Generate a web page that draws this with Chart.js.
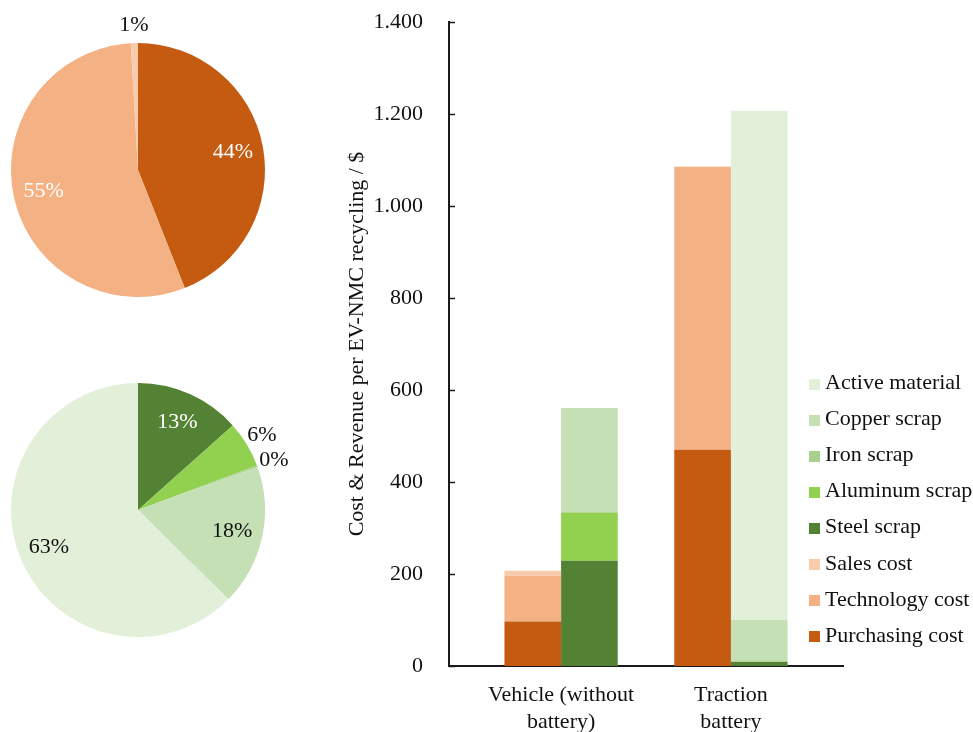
<!DOCTYPE html>
<html>
<head>
<meta charset="utf-8">
<script src="https://cdn.jsdelivr.net/npm/chart.js@4.4.1/dist/chart.umd.min.js"></script>
<style>
  html, body { margin: 0; padding: 0; background: #fff; overflow: hidden; }
  body { width: 973px; height: 732px; position: relative; font-family: "Liberation Serif", "Times New Roman", serif; }
  #pieCost { position: absolute; left: 0; top: 0; }
  #pieRevenue { position: absolute; left: 0; top: 340px; }
  #barChart { position: absolute; left: 330px; top: 0; }
  #legend { position: absolute; left: 809px; top: 364px; font-size: 22px; color: #111; }
  #legend .row { display: flex; align-items: center; height: 36.1px; white-space: nowrap; }
  #legend .box { width: 11px; height: 11px; margin-right: 5px; position: relative; top: 2px; }
</style>
</head>
<body>
<canvas id="pieCost" width="300" height="340"></canvas>
<canvas id="pieRevenue" width="300" height="392"></canvas>
<canvas id="barChart" width="643" height="732"></canvas>
<div id="legend"></div>

<script>
// Dados (US$ por EV-NMC)
const categories = [['Vehicle (without', 'battery)'], ['Traction', 'battery']];
const yTicks = [0, 200, 400, 600, 800, 1000, 1200, 1400];

// Custos
const purchasingCost = [97, 470];
const technologyCost = [99, 615];
const salesCost = [11, 1];

// Receitas
const steelScrap = [229, 9];
const aluminumScrap = [104, 0];
const ironScrap = [3, 1];
const copperScrap = [225, 90];
const activeMaterial = [0, 1107];

// Participação (%) nas pizzas
const costShareLabels = ['Purchasing cost', 'Technology cost', 'Sales cost'];
const costShare = [44.0, 55.1, 0.9];
const revenueShareLabels = ['Steel scrap', 'Aluminum scrap', 'Iron scrap', 'Copper scrap', 'Active material'];
const revenueShare = [13.4, 5.9, 0.2, 17.9, 62.6];

const FONT = '"Liberation Serif", "Times New Roman", serif';
const TEXT = '#111';
const AXIS = '#1a1a1a';

const colors = {
  purchasing: '#C55A11',
  technology: '#F4B183',
  sales: '#F8CBAD',
  steel: '#548235',
  aluminum: '#92D050',
  iron: '#A9D18E',
  copper: '#C5E0B4',
  active: '#E2F0D9'
};

Chart.defaults.font.family = FONT;
Chart.defaults.color = TEXT;
Chart.defaults.animation = false;

// Rótulos percentuais nas fatias
const pieLabels = {
  id: 'pieLabels',
  afterDatasetsDraw(chart, args, opts) {
    const ctx = chart.ctx;
    const meta = chart.getDatasetMeta(0);
    const values = chart.data.datasets[0].data;
    ctx.save();
    ctx.font = '22px ' + FONT;
    ctx.textAlign = 'center';
    ctx.textBaseline = 'middle';
    meta.data.forEach((arc, i) => {
      const { x, y, startAngle, endAngle, outerRadius } = arc.getProps(['x', 'y', 'startAngle', 'endAngle', 'outerRadius'], true);
      const mid = (startAngle + endAngle) / 2;
      const outside = values[i] < 10;
      const r = outside ? outerRadius * 1.14 : outerRadius * 0.76;
      ctx.fillStyle = outside ? TEXT : (opts.inside[i] || TEXT);
      ctx.fillText(Math.round(values[i]) + '%', x + Math.cos(mid) * r, y + Math.sin(mid) * r);
    });
    ctx.restore();
  }
};

function makePie(id, labels, data, bg, inside, pad) {
  return new Chart(document.getElementById(id), {
    type: 'pie',
    data: { labels, datasets: [{ data, backgroundColor: bg, borderWidth: 0 }] },
    options: {
      responsive: false,
      layout: { padding: pad },
      plugins: { legend: { display: false }, tooltip: { enabled: false }, pieLabels: { inside } }
    },
    plugins: [pieLabels]
  });
}

makePie('pieCost', costShareLabels, costShare,
  [colors.purchasing, colors.technology, colors.sales],
  ['#fff', '#fff', TEXT],
  { left: 11, top: 43, right: 35, bottom: 43 });

makePie('pieRevenue', revenueShareLabels, revenueShare,
  [colors.steel, colors.aluminum, colors.iron, colors.copper, colors.active],
  ['#fff', TEXT, TEXT, TEXT, TEXT],
  { left: 11, top: 43, right: 35, bottom: 95 });

// Marcas de escala para dentro do eixo Y
const innerTicks = {
  id: 'innerTicks',
  afterDraw(chart) {
    const y = chart.scales.y;
    const ctx = chart.ctx;
    ctx.save();
    ctx.strokeStyle = AXIS;
    ctx.lineWidth = 1.5;
    y.ticks.forEach(t => {
      const py = Math.round(y.getPixelForValue(t.value)) + 0.5;
      ctx.beginPath();
      ctx.moveTo(chart.chartArea.left, py);
      ctx.lineTo(chart.chartArea.left + 6, py);
      ctx.stroke();
    });
    ctx.restore();
  }
};

const toPoints = arr => arr.map((v, i) => ({ x: i + 1, y: v }));

const barDatasets = [
  { label: 'Purchasing cost', data: toPoints(purchasingCost), backgroundColor: colors.purchasing, stack: 'cost' },
  { label: 'Technology cost', data: toPoints(technologyCost), backgroundColor: colors.technology, stack: 'cost' },
  { label: 'Sales cost', data: toPoints(salesCost), backgroundColor: colors.sales, stack: 'cost' },
  { label: 'Steel scrap', data: toPoints(steelScrap), backgroundColor: colors.steel, stack: 'revenue' },
  { label: 'Aluminum scrap', data: toPoints(aluminumScrap), backgroundColor: colors.aluminum, stack: 'revenue' },
  { label: 'Iron scrap', data: toPoints(ironScrap), backgroundColor: colors.iron, stack: 'revenue' },
  { label: 'Copper scrap', data: toPoints(copperScrap), backgroundColor: colors.copper, stack: 'revenue' },
  { label: 'Active material', data: toPoints(activeMaterial), backgroundColor: colors.active, stack: 'revenue' }
];
barDatasets.forEach(d => { d.borderWidth = 0; d.categoryPercentage = 0.667; d.barPercentage = 1; });

new Chart(document.getElementById('barChart'), {
  type: 'bar',
  data: { datasets: barDatasets },
  options: {
    responsive: false,
    layout: { padding: { left: 0, right: 130, top: 22, bottom: 0 } },
    plugins: { legend: { display: false }, tooltip: { enabled: false } },
    scales: {
      x: {
        type: 'linear',
        stacked: true,
        offset: false,
        min: 0.34,
        max: 2.66,
        grid: { display: false, drawTicks: false },
        border: { display: true, color: AXIS, width: 2 },
        afterBuildTicks: axis => { axis.ticks = categories.map((_, i) => ({ value: i + 1 })); },
        afterFit: axis => { axis.height = 66; },
        ticks: {
          autoSkip: false,
          maxRotation: 0,
          minRotation: 0,
          padding: 15,
          font: { size: 22, lineHeight: 1.25 },
          callback: (v, i) => categories[i]
        }
      },
      y: {
        stacked: true,
        min: 0,
        max: 1400,
        grid: { display: false, drawTicks: false },
        border: { display: true, color: AXIS, width: 2 },
        afterBuildTicks: axis => { axis.ticks = yTicks.map(v => ({ value: v })); },
        afterFit: axis => { axis.width = 119; axis.paddingTop = 14; axis.paddingBottom = 14; },
        ticks: {
          padding: 26,
          font: { size: 22 },
          callback: v => v.toLocaleString('de-DE')
        },
        title: {
          display: true,
          text: 'Cost & Revenue per EV-NMC recycling / $',
          font: { size: 22 },
          padding: { top: 14, bottom: 0 }
        }
      }
    }
  },
  plugins: [innerTicks]
});

// Legenda (ordem inversa, como no Excel)
const legendEl = document.getElementById('legend');
barDatasets.slice().reverse().forEach(d => {
  const row = document.createElement('div');
  row.className = 'row';
  row.innerHTML = `<span class="box" style="background:${d.backgroundColor}"></span><span>${d.label}</span>`;
  legendEl.appendChild(row);
});
</script>
</body>
</html>
